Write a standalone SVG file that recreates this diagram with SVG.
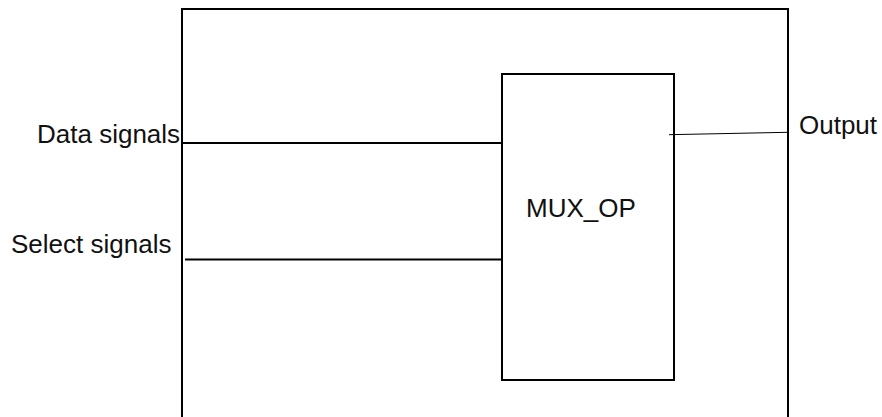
<svg xmlns="http://www.w3.org/2000/svg" width="882" height="417" viewBox="0 0 882 417">
<style>
.box{fill:none;stroke:#000;stroke-width:2}
.wire{fill:none;stroke:#000;stroke-width:2}
.thin{fill:none;stroke:#000;stroke-width:1}
.lbl{font-family:"Liberation Sans",Arial,sans-serif;font-size:26px;fill:#111}
</style>
<rect width="882" height="417" fill="#fff"/>
<g id="outer">
<path class="box" d="M182,430 L182,9 L788,9 L788,430"/>
</g>
<g id="mux_op">
<rect class="box" x="502" y="74" width="172" height="306"/>
<text class="lbl" x="526" y="217">MUX_OP</text>
</g>
<g id="data_signals">
<text class="lbl" x="37" y="143">Data signals</text>
</g>
<g id="select_signals">
<text class="lbl" x="11" y="253">Select signals</text>
</g>
<g id="output">
<text class="lbl" x="799" y="134">Output</text>
</g>
<g id="connectors">
<line class="wire" x1="182" y1="143" x2="502" y2="143"/>
<line class="wire" x1="185" y1="259.5" x2="502" y2="259.5"/>
<line class="thin" x1="669" y1="134.7" x2="788" y2="132.3"/>
</g>
</svg>
